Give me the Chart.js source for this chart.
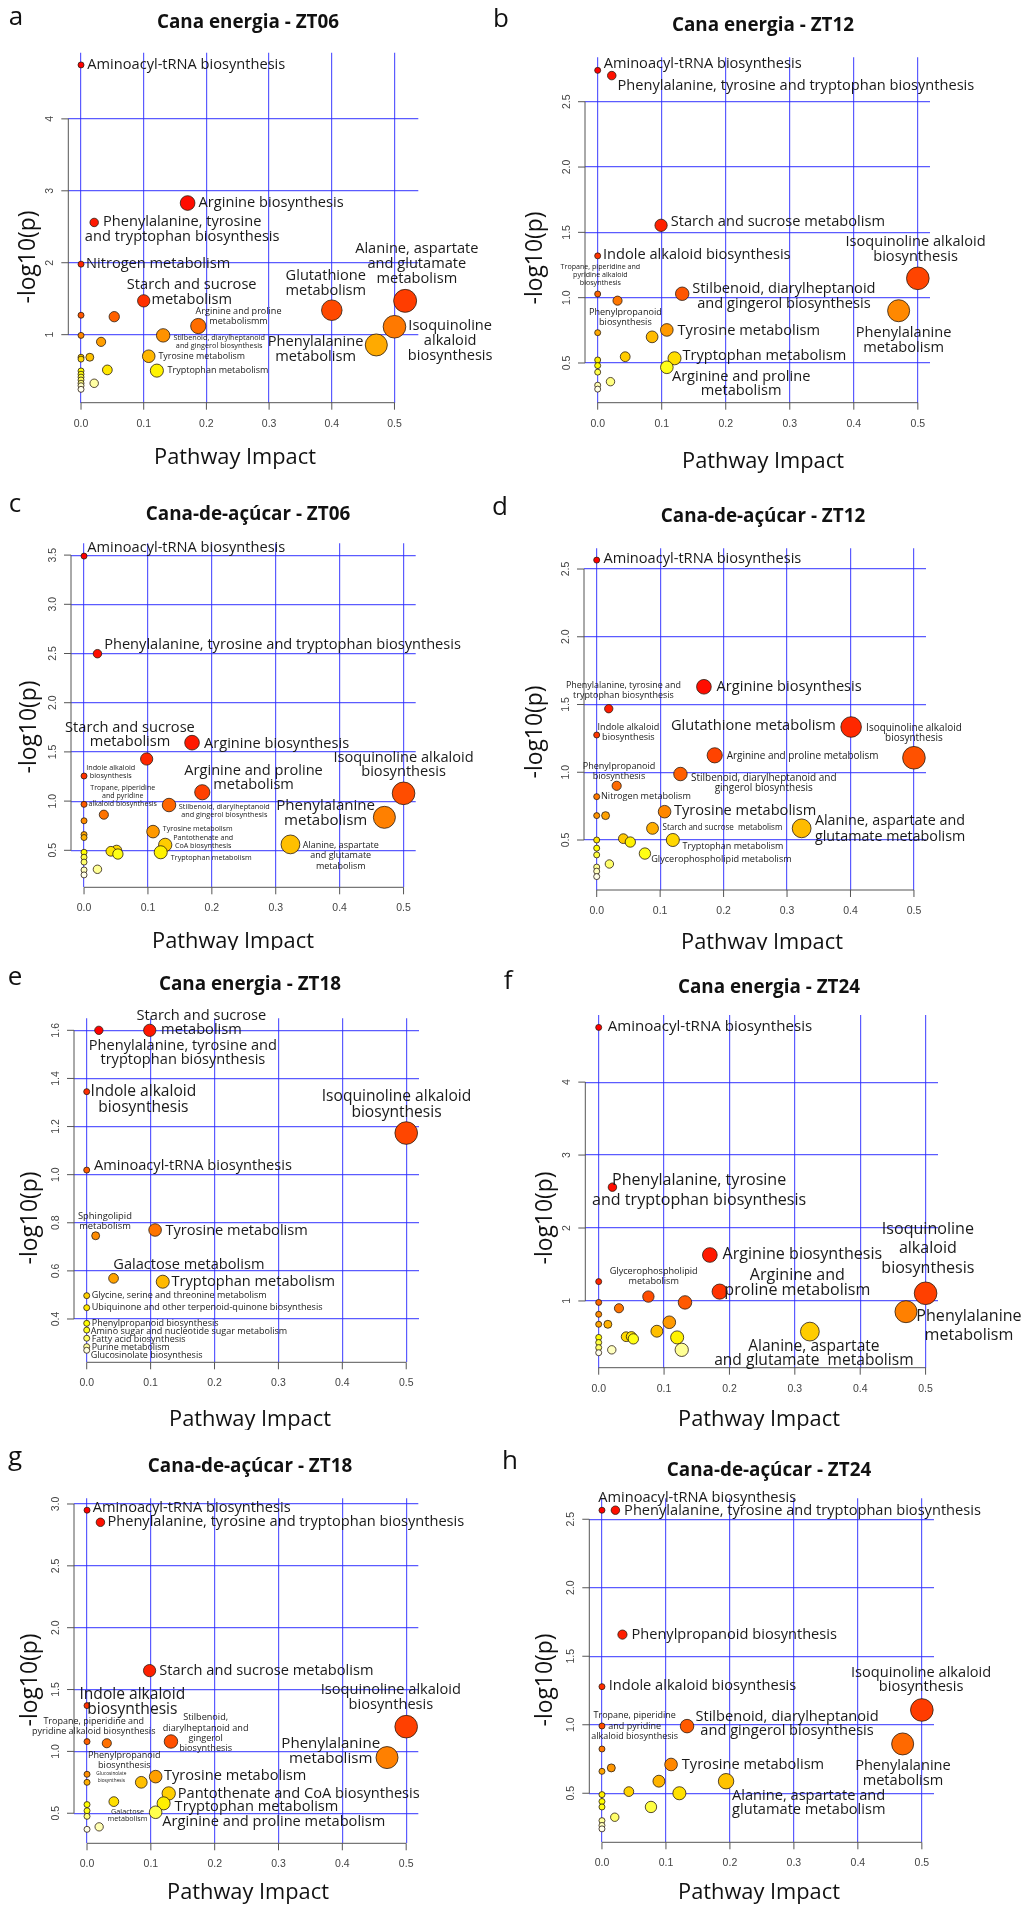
<!DOCTYPE html>
<html>
<head>
<meta charset="utf-8">
<script src="https://cdn.jsdelivr.net/npm/chart.js@4.4.1/dist/chart.umd.min.js"></script>
<style>
  body { margin: 0; background: #fff; }
  #figure { position: relative; width: 1021px; height: 1906px; overflow: hidden; }
  #figure canvas { position: absolute; }
</style>
</head>
<body>
<div id="figure"></div>
<script>
// ---- data ----
const xTicks = [0, 0.1, 0.2, 0.3, 0.4, 0.5];
const xTitle = 'Pathway Impact';
const yTitle = '-log10(p)';

// a - Cana energia ZT06
const aImpact = [0, 0.17, 0.021, 0, 0.10, 0.517, 0.40, 0, 0.053, 0.187, 0.5, 0, 0.131, 0.032, 0.471, 0.108, 0.014, 0, 0, 0.042, 0.121, 0, 0, 0, 0, 0, 0, 0, 0.021];
const aLogP = [4.75, 2.83, 2.56, 1.98, 1.47, 1.47, 1.34, 1.27, 1.25, 1.12, 1.11, 0.99, 0.99, 0.90, 0.857, 0.70, 0.686, 0.686, 0.66, 0.51, 0.50, 0.495, 0.45, 0.41, 0.37, 0.325, 0.29, 0.24, 0.324];
const aNames = ['Aminoacyl-tRNA biosynthesis', 'Arginine biosynthesis', 'Phenylalanine, tyrosine\nand tryptophan biosynthesis', 'Nitrogen metabolism',
  'Starch and sucrose\nmetabolism', 'Alanine, aspartate\nand glutamate\nmetabolism', 'Glutathione\nmetabolism', '', '', 'Arginine and proline\nmetabolismm',
  'Isoquinoline\nalkaloid\nbiosynthesis', '', 'Stilbenoid, diarylheptanoid\nand gingerol biosynthesis', '', 'Phenylalanine\nmetabolism', 'Tyrosine metabolism',
  '', '', '', '', 'Tryptophan metabolism', '', '', '', '', '', '', '', ''];
const aYTicks = [1, 2, 3, 4];

// b - Cana energia ZT12
const bImpact = [0, 0.022, 0.099, 0, 0.5, 0, 0.132, 0.031, 0.47, 0, 0.108, 0.085, 0.043, 0.12, 0, 0.108, 0, 0, 0.02, 0, 0];
const bLogP = [2.74, 2.70, 1.554, 1.32, 1.148, 1.028, 1.03, 0.977, 0.90, 0.732, 0.753, 0.70, 0.548, 0.536, 0.523, 0.467, 0.48, 0.43, 0.357, 0.33, 0.30];
const bNames = ['Aminoacyl-tRNA biosynthesis', 'Phenylalanine, tyrosine and tryptophan biosynthesis', 'Starch and sucrose metabolism', 'Indole alkaloid biosynthesis',
  'Isoquinoline alkaloid\nbiosynthesis', 'Tropane, piperidine and\npyridine alkaloid\nbiosynthesis', 'Stilbenoid, diarylheptanoid\nand gingerol biosynthesis', '',
  'Phenylalanine\nmetabolism', 'Phenylpropanoid\nbiosynthesis', 'Tyrosine metabolism', '', '', 'Tryptophan metabolism', '', 'Arginine and proline\nmetabolism',
  '', '', '', '', ''];
const bYTicks = [0.5, 1.0, 1.5, 2.0, 2.5];

// c - Cana-de-açúcar ZT06
const cImpact = [0, 0.021, 0.169, 0.098, 0, 0.185, 0.5, 0, 0.133, 0.031, 0.47, 0, 0.108, 0, 0, 0.323, 0.127, 0.051, 0.042, 0.053, 0.12, 0, 0, 0, 0.021, 0, 0];
const cLogP = [3.49, 2.498, 1.594, 1.428, 1.255, 1.09, 1.079, 0.967, 0.96, 0.862, 0.835, 0.80, 0.69, 0.66, 0.63, 0.56, 0.555, 0.50, 0.49, 0.462, 0.48, 0.48, 0.43, 0.38, 0.307, 0.30, 0.25];
const cNames = ['Aminoacyl-tRNA biosynthesis', 'Phenylalanine, tyrosine and tryptophan biosynthesis', 'Arginine biosynthesis', 'Starch and sucrose\nmetabolism',
  'Indole alkaloid\nbiosynthesis', 'Arginine and proline\nmetabolism', 'Isoquinoline alkaloid\nbiosynthesis', 'Tropane, piperidine\nand pyridine\nalkaloid biosynthesis',
  'Stilbenoid, diarylheptanoid\nand gingerol biosynthesis', '', 'Phenylalanine\nmetabolism', '', 'Tyrosine metabolism', '', '',
  'Alanine, aspartate\nand glutamate\nmetabolism', 'Pantothenate and\nCoA biosynthesis', '', '', '', 'Tryptophan metabolism', '', '', '', '', '', ''];
const cYTicks = [0.5, 1.0, 1.5, 2.0, 2.5, 3.0, 3.5];

// d - Cana-de-açúcar ZT12
const dImpact = [0, 0.169, 0.019, 0.401, 0, 0.186, 0.5, 0.132, 0.0315, 0, 0.107, 0, 0.014, 0.088, 0.323, 0.042, 0.053, 0.12, 0, 0, 0, 0.076, 0.02, 0, 0, 0];
const dLogP = [2.566, 1.631, 1.469, 1.334, 1.275, 1.125, 1.107, 0.987, 0.90, 0.82, 0.709, 0.68, 0.68, 0.586, 0.586, 0.51, 0.485, 0.50, 0.50, 0.44, 0.39, 0.40, 0.323, 0.30, 0.27, 0.23];
const dNames = ['Aminoacyl-tRNA biosynthesis', 'Arginine biosynthesis', 'Phenylalanine, tyrosine and\ntryptophan biosynthesis', 'Glutathione metabolism',
  'Indole alkaloid\nbiosynthesis', 'Arginine and proline metabolism', 'Isoquinoline alkaloid\nbiosynthesis', 'Stilbenoid, diarylheptanoid and\ngingerol biosynthesis',
  'Phenylpropanoid\nbiosynthesis', 'Nitrogen metabolism', 'Tyrosine metabolism', '', '', 'Starch and sucrose  metabolism',
  'Alanine, aspartate and\nglutamate metabolism', '', '', 'Tryptophan metabolism', '', '', '', 'Glycerophospholipid metabolism', '', '', '', ''];
const dYTicks = [0.5, 1.0, 1.5, 2.0, 2.5];

// e - Cana energia ZT18
const eImpact = [0.019, 0.0986, 0, 0.5, 0, 0.107, 0.014, 0.042, 0.119, 0, 0, 0, 0, 0, 0, 0];
const eLogP = [1.60, 1.60, 1.345, 1.173, 1.019, 0.77, 0.746, 0.569, 0.555, 0.497, 0.447, 0.382, 0.354, 0.32, 0.285, 0.27];
const eNames = ['Phenylalanine, tyrosine and\ntryptophan biosynthesis', 'Starch and sucrose\nmetabolism', 'Indole alkaloid\nbiosynthesis',
  'Isoquinoline alkaloid\nbiosynthesis', 'Aminoacyl-tRNA biosynthesis', 'Tyrosine metabolism', 'Sphingolipid\nmetabolism', 'Galactose metabolism',
  'Tryptophan metabolism', 'Glycine, serine and threonine metabolism', 'Ubiquinone and other terpenoid-quinone biosynthesis', 'Phenylpropanoid biosynthesis',
  'Amino sugar and nucleotide sugar metabolism', 'Fatty acid biosynthesis', 'Purine metabolism', 'Glucosinolate biosynthesis'];
const eYTicks = [0.4, 0.6, 0.8, 1.0, 1.2, 1.4, 1.6];

// f - Cana energia ZT24
const fImpact = [0, 0.021, 0.17, 0, 0.185, 0.5, 0.076, 0.132, 0, 0.031, 0.47, 0, 0.108, 0, 0.014, 0.089, 0.323, 0.042, 0.05, 0.053, 0.12, 0, 0, 0, 0.127, 0.02, 0];
const fLogP = [4.75, 2.56, 1.63, 1.265, 1.128, 1.105, 1.06, 0.98, 0.98, 0.90, 0.853, 0.817, 0.708, 0.68, 0.68, 0.585, 0.58, 0.51, 0.51, 0.48, 0.50, 0.50, 0.43, 0.36, 0.33, 0.33, 0.29];
const fNames = ['Aminoacyl-tRNA biosynthesis', 'Phenylalanine, tyrosine\nand tryptophan biosynthesis', 'Arginine biosynthesis', '', 'Arginine and\nproline metabolism',
  'Isoquinoline\nalkaloid\nbiosynthesis', 'Glycerophospholipid\nmetabolism', '', '', '', 'Phenylalanine\nmetabolism', '', '', '', '', '',
  'Alanine, aspartate\nand glutamate  metabolism', '', '', '', '', '', '', '', '', '', ''];
const fYTicks = [1, 2, 3, 4];

// g - Cana-de-açúcar ZT18
const gImpact = [0, 0.021, 0.098, 0, 0.5, 0, 0.031, 0.1315, 0.47, 0, 0, 0.1075, 0.085, 0.128, 0.12, 0.042, 0.1075, 0, 0, 0, 0.019, 0];
const gLogP = [2.95, 2.852, 1.653, 1.37, 1.2, 1.079, 1.066, 1.08, 0.95, 0.815, 0.75, 0.796, 0.75, 0.66, 0.58, 0.594, 0.508, 0.57, 0.52, 0.475, 0.39, 0.37];
const gNames = ['Aminoacyl-tRNA biosynthesis', 'Phenylalanine, tyrosine and tryptophan biosynthesis', 'Starch and sucrose metabolism', 'Indole alkaloid\nbiosynthesis',
  'Isoquinoline alkaloid\nbiosynthesis', 'Tropane, piperidine and\npyridine alkaloid biosynthesis', '', 'Stilbenoid,\ndiarylheptanoid and\ngingerol\nbiosynthesis',
  'Phenylalanine\nmetabolism', 'Phenylpropanoid\nbiosynthesis', 'Glucosinolate\nbiosynthesis', 'Tyrosine metabolism', '', 'Pantothenate and CoA biosynthesis',
  'Tryptophan metabolism', 'Galactose\nmetabolism', 'Arginine and proline metabolism', '', '', '', '', ''];
const gYTicks = [0.5, 1.0, 1.5, 2.0, 2.5, 3.0];

// h - Cana-de-açúcar ZT24
const hImpact = [0, 0.021, 0.032, 0, 0.5, 0, 0.133, 0.47, 0, 0.108, 0.0146, 0, 0.089, 0.194, 0.042, 0.121, 0, 0, 0, 0.0766, 0.02, 0, 0, 0];
const hLogP = [2.566, 2.566, 1.658, 1.278, 1.108, 0.991, 0.99, 0.86, 0.823, 0.71, 0.685, 0.66, 0.588, 0.588, 0.512, 0.50, 0.49, 0.44, 0.40, 0.40, 0.325, 0.30, 0.265, 0.24];
const hNames = ['Aminoacyl-tRNA biosynthesis', 'Phenylalanine, tyrosine and tryptophan biosynthesis', 'Phenylpropanoid biosynthesis', 'Indole alkaloid biosynthesis',
  'Isoquinoline alkaloid\nbiosynthesis', 'Tropane, piperidine\nand pyridine\nalkaloid biosynthesis', 'Stilbenoid, diarylheptanoid\nand gingerol biosynthesis',
  'Phenylalanine\nmetabolism', '', 'Tyrosine metabolism', '', '', '', 'Alanine, aspartate and\nglutamate metabolism', '', '', '', '', '', '', '', '', '', ''];
const hYTicks = [0.5, 1.0, 1.5, 2.0, 2.5];

// ---- layout (page pixels) ----
const layout = {
  a: { canvas: [0, 0, 500, 480], area: [68.3, 52.7, 418.3, 402.7], x: [-0.0203, 0.538], y: [0.054, 4.92], letter: [16, 18], title: [248, 23], xTitle: [235, 458], yTitle: [28, 257] },
  b: { canvas: [485, 0, 536, 480], area: [585, 57.3, 930, 402.7], x: [-0.0198, 0.519], y: [0.196, 2.84], letter: [501, 20], title: [763, 26], xTitle: [763, 462], yTitle: [535, 258] },
  c: { canvas: [0, 480, 500, 470], area: [71, 543.3, 415.7, 887.3], x: [-0.0204, 0.519], y: [0.124, 3.62], letter: [15, 505], title: [248, 515], xTitle: [233, 942], yTitle: [29, 727] },
  d: { canvas: [485, 480, 536, 470], area: [584, 548.3, 926, 890], x: [-0.02, 0.519], y: [0.131, 2.653], letter: [500, 508], title: [763, 517], xTitle: [762, 943], yTitle: [535, 732] },
  e: { canvas: [0, 950, 500, 480], area: [74, 1018.3, 419, 1362.3], x: [-0.0199, 0.52], y: [0.22, 1.65], letter: [15, 978], title: [250, 985], xTitle: [250, 1420], yTitle: [30, 1218] },
  f: { canvas: [485, 950, 536, 480], area: [585.3, 1015, 938, 1367.7], x: [-0.0205, 0.519], y: [0.085, 4.92], letter: [508, 982], title: [769, 988], xTitle: [759, 1420], yTitle: [545, 1218] },
  g: { canvas: [0, 1430, 500, 476], area: [74, 1498.3, 418.3, 1843.3], x: [-0.0204, 0.519], y: [0.257, 3.046], letter: [15, 1458], title: [250, 1467], xTitle: [248, 1893], yTitle: [30, 1680] },
  h: { canvas: [485, 1430, 536, 476], area: [589.3, 1498.3, 934, 1842.3], x: [-0.0198, 0.519], y: [0.142, 2.653], letter: [510, 1462], title: [769, 1471], xTitle: [759, 1893], yTitle: [545, 1680] }
};

// label placement relative to its bubble:
// [dx, dy, nominal size, align, line height, width of first line in the original]
const labelPos = {
  a: { 0: [6.3, 0, 15, 'left'], 1: [11, 0, 15, 'left'], 2: [88, -0.7, 15, 'center'], 3: [5, 0, 15, 'left'], 4: [48, -15.7, 15, 'center'],
       5: [11.7, -51.7, 15, 'center'], 6: [-6, -34.7, 15, 'center'], 9: [40.3, -14.3, 10, 'center', 10, 86], 10: [55.7, -0.7, 15, 'center'],
       12: [56, 2.7, 8.5, 'center', 8.3, 91.7], 14: [-60.7, -2.7, 15, 'center'], 15: [9.7, 0, 10, 'left', 10, 86.7], 20: [10.7, 0, 10, 'left', 10, 101] },
  b: { 0: [6, -6.7, 15, 'left'], 1: [5.7, 10, 15, 'left'], 2: [9.7, -3, 15, 'left'], 3: [5.3, -0.7, 15, 'left'], 4: [-2.3, -36, 15, 'center', 14.3],
       5: [2.7, -27.3, 8, 'center', 8, 79.7], 6: [101.7, -5.3, 15, 'center'], 8: [5, 22, 15, 'center'], 9: [27.7, -20.3, 10, 'center', 10, 73],
       10: [10.7, 0.7, 15, 'left'], 13: [8, -2.7, 15, 'left'], 15: [74.3, 9.3, 15, 'center', 14.3] },
  c: { 0: [3.3, -8.3, 15, 'left'], 1: [6.7, -9.3, 15, 'left'], 2: [12, 0.7, 15, 'left'], 3: [-16.7, -31.3, 15, 'center', 14.3],
       4: [26.7, -8, 8.5, 'center', 8, 49], 5: [51.3, -21.7, 15, 'center', 14], 6: [0, -35.7, 15, 'center', 14.7], 7: [38.7, -16.3, 8.5, 'center', 8, 65],
       8: [55.3, 1.7, 8.5, 'center', 8.3, 91], 10: [-58.7, -11.3, 15.5, 'center', 14.7], 12: [9.7, -2.7, 8.5, 'left', 8.5, 70],
       15: [50.3, 1.3, 10, 'center', 10.2, 76], 16: [38, -6.7, 8.5, 'center', 7.7, 60], 20: [10, 5.7, 8.5, 'left', 8.5, 81] },
  d: { 0: [6.7, -1, 15, 'left'], 1: [12.7, 0, 15, 'left'], 2: [14.7, -23.7, 10, 'center', 10.3, 115], 3: [-15.3, -1, 15, 'right'],
       4: [31.7, -8, 10, 'center', 10, 61.7], 5: [12, 1, 10.5, 'left', 10, 152], 6: [0, -29.3, 10, 'center', 10, 95.7],
       7: [83.3, 4.3, 10.5, 'center', 10, 145.7], 8: [2.3, -19.7, 10.5, 'center', 10, 72.7], 9: [4.3, 0, 10, 'left', 10, 90],
       10: [9.3, -0.7, 15, 'left'], 13: [10, -0.7, 9, 'left', 9, 120], 14: [13.3, -7.7, 16.5, 'left', 16.7, 150],
       17: [9.7, 6, 10, 'left', 10, 101], 21: [6.3, 5.7, 10, 'left', 10, 140.7] },
  e: { 0: [84, 15.7, 15, 'center', 14], 1: [51.7, -14.3, 15, 'center', 14], 2: [56.7, 0, 16, 'center', 15.7], 3: [-9.7, -36.3, 16, 'center', 16],
       4: [7.3, -4, 15, 'left'], 5: [10.3, 1, 15, 'left'], 6: [9.3, -19, 10, 'center', 10, 54], 7: [75.3, -14, 15, 'center'], 8: [8.7, 0, 15, 'left'],
       9: [5, 0, 9.5, 'left', 9.5, 175], 10: [5, 0, 9.5, 'left', 9.5, 231], 11: [5, 0, 9.5, 'left', 9.5, 127], 12: [4, 1, 9.5, 'left', 9.5, 196.7],
       13: [5, 1, 9.5, 'left', 9.5, 94], 14: [5, 0.7, 9.5, 'left', 9.5, 78], 15: [4, 5, 9.5, 'left', 9.5, 112] },
  f: { 0: [9, -0.7, 15.5, 'left'], 1: [86.7, -6.3, 16.5, 'center', 19.7], 2: [12.7, -1, 16.5, 'left'], 4: [77.7, -16.3, 16.5, 'center', 14.7],
       5: [2.3, -64, 16.5, 'center', 19.5], 6: [5.3, -25, 10.5, 'center', 10, 88], 10: [63, 4.3, 16.5, 'center', 19.7], 16: [4, 15, 16, 'center', 14.3] },
  g: { 0: [5.7, -2.7, 15, 'left'], 1: [7, 0, 15, 'left'], 2: [9.7, 0, 15, 'left'], 3: [45.3, -10.7, 16, 'center', 14.3],
       4: [-15.3, -36.7, 15, 'center'], 5: [6.7, -19.7, 10, 'center', 10, 100.7], 7: [34.7, -23.7, 10, 'center', 10.3, 45],
       8: [-56.3, -14.3, 15.5, 'center'], 9: [37.3, -19, 10.5, 'center', 10, 72.7], 10: [24.3, -9, 6.5, 'center', 7.7, 30],
       11: [8.3, -0.7, 15, 'left'], 13: [9, 0, 15, 'left'], 14: [11, 3.3, 15, 'left'], 15: [13.7, 10, 7, 'center', 7.7, 33],
       16: [6.7, 10, 15, 'left'] },
  h: { 0: [-3.7, -12.3, 15, 'left'], 1: [8.7, 0.7, 15, 'left'], 2: [9, 0, 15, 'left'], 3: [6.7, -0.7, 15, 'left'],
       4: [-0.7, -37.3, 15, 'center', 14.3], 5: [32.7, -10.3, 10, 'center', 10.3, 82.3], 6: [100, -9.3, 15, 'center', 14.3],
       7: [0.3, 22, 15, 'center', 14.7], 9: [10.7, 0.7, 15, 'left'], 13: [6, 14.7, 15, 'left', 14] }
};

const panels = [
  { key: 'a', letter: 'a', title: 'Cana energia - ZT06', impact: aImpact, logp: aLogP, names: aNames, yTicks: aYTicks, yDigits: 0 },
  { key: 'b', letter: 'b', title: 'Cana energia - ZT12', impact: bImpact, logp: bLogP, names: bNames, yTicks: bYTicks, yDigits: 1 },
  { key: 'c', letter: 'c', title: 'Cana-de-açúcar - ZT06', impact: cImpact, logp: cLogP, names: cNames, yTicks: cYTicks, yDigits: 1 },
  { key: 'd', letter: 'd', title: 'Cana-de-açúcar - ZT12', impact: dImpact, logp: dLogP, names: dNames, yTicks: dYTicks, yDigits: 1 },
  { key: 'e', letter: 'e', title: 'Cana energia - ZT18', impact: eImpact, logp: eLogP, names: eNames, yTicks: eYTicks, yDigits: 1 },
  { key: 'f', letter: 'f', title: 'Cana energia - ZT24', impact: fImpact, logp: fLogP, names: fNames, yTicks: fYTicks, yDigits: 0 },
  { key: 'g', letter: 'g', title: 'Cana-de-açúcar - ZT18', impact: gImpact, logp: gLogP, names: gNames, yTicks: gYTicks, yDigits: 1 },
  { key: 'h', letter: 'h', title: 'Cana-de-açúcar - ZT24', impact: hImpact, logp: hLogP, names: hNames, yTicks: hYTicks, yDigits: 1 }
];

const gridBlue = 'rgba(45, 45, 255, 0.78)';
const axisGray = '#555';
const textFont = '"Open Sans", Lato, sans-serif';

// font sizes fitted so strings come out at the widths of the original
const probe = document.createElement('canvas').getContext('2d');
function fitSize(text, weight, width) {
  probe.font = weight + ' 100px ' + textFont;
  return 100 * width / probe.measureText(text).width;
}
const labelUnit = fitSize('Aminoacyl-tRNA biosynthesis', 'normal', 198) / 15;
const titleSize = fitSize('Cana energia - ZT06', 'bold', 182);
const xTitleSize = fitSize(xTitle, 'normal', 162);
const yTitleSize = fitSize(yTitle, 'normal', 93);

// R heat.colors(n)
function hsvHex(h, s, v) {
  const i = Math.floor(h * 6) % 6, f = h * 6 - Math.floor(h * 6);
  const p = v * (1 - s), q = v * (1 - f * s), t = v * (1 - (1 - f) * s);
  const rgb = [[v, t, p], [q, v, p], [p, v, t], [p, q, v], [t, p, v], [v, p, q]][i];
  return '#' + rgb.map(c => Math.round(c * 255).toString(16).padStart(2, '0')).join('');
}
function heatColors(n) {
  const j = Math.floor(n / 4), i = n - j, out = [];
  for (let k = 0; k < i; k++) out.push(hsvHex(i > 1 ? k / (i - 1) / 6 : 0, 1, 1));
  const s0 = 1 - 1 / (2 * j), s1 = 1 / (2 * j);
  for (let k = 0; k < j; k++) out.push(hsvHex(1 / 6, j > 1 ? s0 + (s1 - s0) * k / (j - 1) : s0, 1));
  return out;
}
// bubble size grows with pathway impact
function bubbleRadius(impact) {
  return 3 + 12.6 * Math.pow(impact, 0.6);
}

function decor(p, g) {
  const cx = g.canvas[0], cy = g.canvas[1];
  const pos = labelPos[p.key];
  return {
    id: 'decor',
    beforeDatasetsDraw(chart) {
      const ctx = chart.ctx, xs = chart.scales.x, ys = chart.scales.y;
      const L = chart.chartArea.left, B = chart.chartArea.bottom;
      ctx.save();
      ctx.strokeStyle = axisGray;
      ctx.lineWidth = 1;
      ctx.beginPath();
      ctx.moveTo(L, ys.getPixelForValue(p.yTicks[0]));
      ctx.lineTo(L, ys.getPixelForValue(p.yTicks[p.yTicks.length - 1]));
      p.yTicks.forEach(v => { const y = ys.getPixelForValue(v); ctx.moveTo(L - 7, y); ctx.lineTo(L, y); });
      ctx.moveTo(xs.getPixelForValue(xTicks[0]), B);
      ctx.lineTo(xs.getPixelForValue(xTicks[xTicks.length - 1]), B);
      xTicks.forEach(v => { const x = xs.getPixelForValue(v); ctx.moveTo(x, B); ctx.lineTo(x, B + 7); });
      ctx.stroke();

      // tick labels
      ctx.fillStyle = '#444';
      ctx.font = '10.5px "Liberation Sans", Arial, sans-serif';
      ctx.textAlign = 'center';
      ctx.textBaseline = 'middle';
      xTicks.forEach(v => ctx.fillText(v.toFixed(1), xs.getPixelForValue(v), B + 21));
      p.yTicks.forEach(v => {
        ctx.save();
        ctx.translate(L - 18, ys.getPixelForValue(v));
        ctx.rotate(-Math.PI / 2);
        ctx.fillText(v.toFixed(p.yDigits), 0, 0);
        ctx.restore();
      });

      // titles
      ctx.fillStyle = '#111';
      ctx.font = 'bold ' + titleSize.toFixed(2) + 'px ' + textFont;
      ctx.fillText(p.title, g.title[0] - cx, g.title[1] - cy);
      ctx.font = '26px ' + textFont;
      ctx.fillText(p.letter, g.letter[0] - cx, g.letter[1] - cy);
      ctx.font = xTitleSize.toFixed(2) + 'px ' + textFont;
      ctx.fillText(xTitle, g.xTitle[0] - cx, g.xTitle[1] - cy);
      ctx.save();
      ctx.translate(g.yTitle[0] - cx, g.yTitle[1] - cy);
      ctx.rotate(-Math.PI / 2);
      ctx.font = yTitleSize.toFixed(2) + 'px ' + textFont;
      ctx.fillText(yTitle, 0, 0);
      ctx.restore();
      ctx.restore();
    },
    afterDatasetsDraw(chart) {
      const ctx = chart.ctx;
      const pts = chart.getDatasetMeta(0).data;
      ctx.save();
      ctx.fillStyle = '#1a1a1a';
      ctx.textBaseline = 'middle';
      p.names.forEach((name, i) => {
        const lp = pos[i];
        if (!name || !lp) return;
        const [dx, dy, size, align, lh, width] = lp;
        const lines = name.split('\n');
        const px = width ? fitSize(lines[0], 'normal', width) : size * labelUnit;
        ctx.font = px.toFixed(2) + 'px ' + textFont;
        ctx.textAlign = align;
        lines.forEach((line, k) => {
          ctx.fillText(line, pts[i].x + dx, pts[i].y + dy + k * (lh || size));
        });
      });
      ctx.restore();
    }
  };
}

const fig = document.getElementById('figure');

panels.forEach(p => {
  const g = layout[p.key];
  const cv = document.createElement('canvas');
  cv.width = g.canvas[2];
  cv.height = g.canvas[3];
  cv.style.left = g.canvas[0] + 'px';
  cv.style.top = g.canvas[1] + 'px';
  fig.appendChild(cv);

  // colours by rank of -log10(p), as in the heat palette
  const heat = heatColors(p.logp.length);
  const order = p.logp.map((v, i) => i).sort((i, j) => p.logp[j] - p.logp[i]);
  const fills = [];
  order.forEach((idx, rank) => { fills[idx] = heat[rank]; });

  const A = g.area;
  new Chart(cv, {
    type: 'bubble',
    data: {
      datasets: [{
        data: p.impact.map((x, i) => ({ x: x, y: p.logp[i], r: bubbleRadius(x) })),
        backgroundColor: fills,
        borderColor: '#2b1d12',
        borderWidth: 0.8,
        clip: false
      }]
    },
    options: {
      responsive: false,
      animation: false,
      events: [],
      layout: {
        autoPadding: false,
        padding: {
          left: A[0] - g.canvas[0],
          top: A[1] - g.canvas[1],
          right: g.canvas[0] + g.canvas[2] - A[2],
          bottom: g.canvas[1] + g.canvas[3] - A[3]
        }
      },
      plugins: { legend: { display: false }, tooltip: { enabled: false }, title: { display: false } },
      scales: {
        x: {
          type: 'linear', min: g.x[0], max: g.x[1],
          afterBuildTicks: s => { s.ticks = xTicks.map(v => ({ value: v })); },
          ticks: { display: false },
          grid: { color: gridBlue, lineWidth: 1.2, drawTicks: false },
          border: { display: false }
        },
        y: {
          type: 'linear', min: g.y[0], max: g.y[1],
          afterBuildTicks: s => { s.ticks = p.yTicks.map(v => ({ value: v })); },
          ticks: { display: false },
          grid: { color: gridBlue, lineWidth: 1.2, drawTicks: false },
          border: { display: false }
        }
      }
    },
    plugins: [decor(p, g)]
  });
});
</script>
</body>
</html>
